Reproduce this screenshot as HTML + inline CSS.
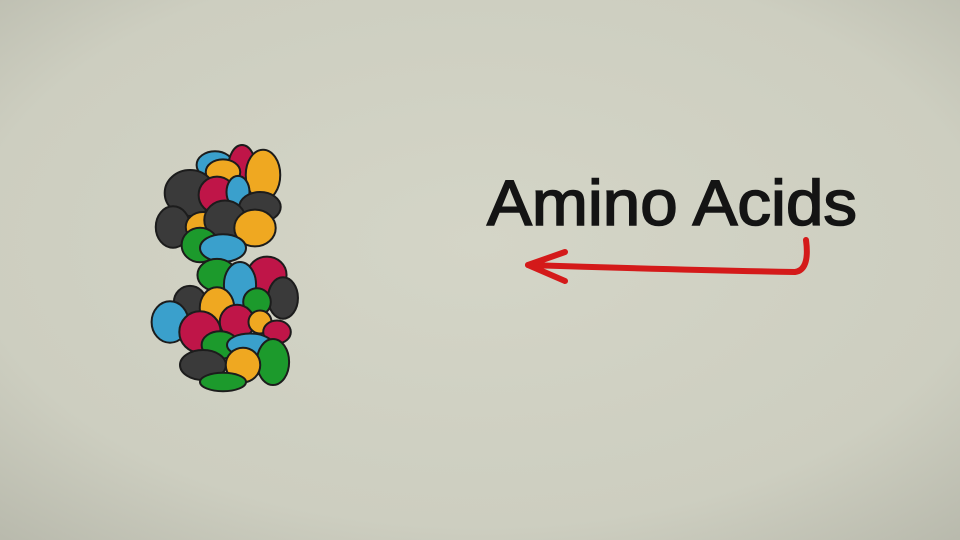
<!DOCTYPE html>
<html><head><meta charset="utf-8"><style>
html,body{margin:0;padding:0;width:960px;height:540px;overflow:hidden;}
svg{display:block}
</style></head><body>
<svg width="960" height="540" viewBox="0 0 960 540">
<defs>
<radialGradient id="bg" cx="50%" cy="45%" r="75%">
<stop offset="0" stop-color="#d4d5c7"/><stop offset="0.7" stop-color="#cdcec0"/><stop offset="1" stop-color="#b8b9ac"/>
</radialGradient>
</defs>
<rect width="960" height="540" fill="url(#bg)"/>
<g id="cluster" stroke="#1c1c1c" stroke-width="2"></g>
<text x="487" y="225" font-family="'Liberation Sans', sans-serif" font-size="64" fill="#141414" stroke="#141414" stroke-width="1.6" textLength="370" lengthAdjust="spacingAndGlyphs">Amino Acids</text>
<g fill="none" stroke="#d41a1a" stroke-width="6" stroke-linecap="round" stroke-linejoin="round">
<path d="M528,265 Q680,270 795,272 Q810,270 806,240"/>
<path d="M565,252 L528,265 L565,281"/>
</g>
<script>
const blobColors={b:'#3aa0cc',r:'#bf1548',y:'#efa821',k:'#3a3a3a',g:'#1c9a2c'};
const blobs=[
['b',215,165,16,12],['r',242,168,12,20],['y',263,175,15,22],['y',223,172,15,11],
['k',190,193,22,20],['r',217,195,16,16],['b',238,192,10,14],['k',260,207,18,13],
['k',173,227,15,18],['y',203,227,15,13],['k',225,220,18,17],['y',255,228,18,16],
['g',200,245,16,15],['b',223,248,20,12],
['g',217,275,17,14],['r',267,275,17,16],['b',240,285,14,20],['k',283,298,13,18],
['k',190,302,14,14],['g',257,302,12,12],['b',170,322,16,18],['y',217,308,15,18],
['r',200,332,18,18],['r',237,322,15,15],['y',260,322,10,10],['r',277,332,12,10],
['g',220,345,16,12],['b',250,345,20,10],['g',273,362,14,20],['k',203,365,20,13],
['y',243,365,15,15],['g',223,382,20,8]];
const blobScale=1.15;
const g=document.getElementById('cluster');
blobs.forEach(function(d){
 const e=document.createElementNS('http://www.w3.org/2000/svg','ellipse');
 
 
 e.setAttribute('cx',d[1]);e.setAttribute('cy',d[2]);
 e.setAttribute('rx',d[3]*blobScale);e.setAttribute('ry',d[4]*blobScale);
 e.setAttribute('fill',blobColors[d[0]]);
 g.appendChild(e);
});
</script>
</svg>
</body></html>
